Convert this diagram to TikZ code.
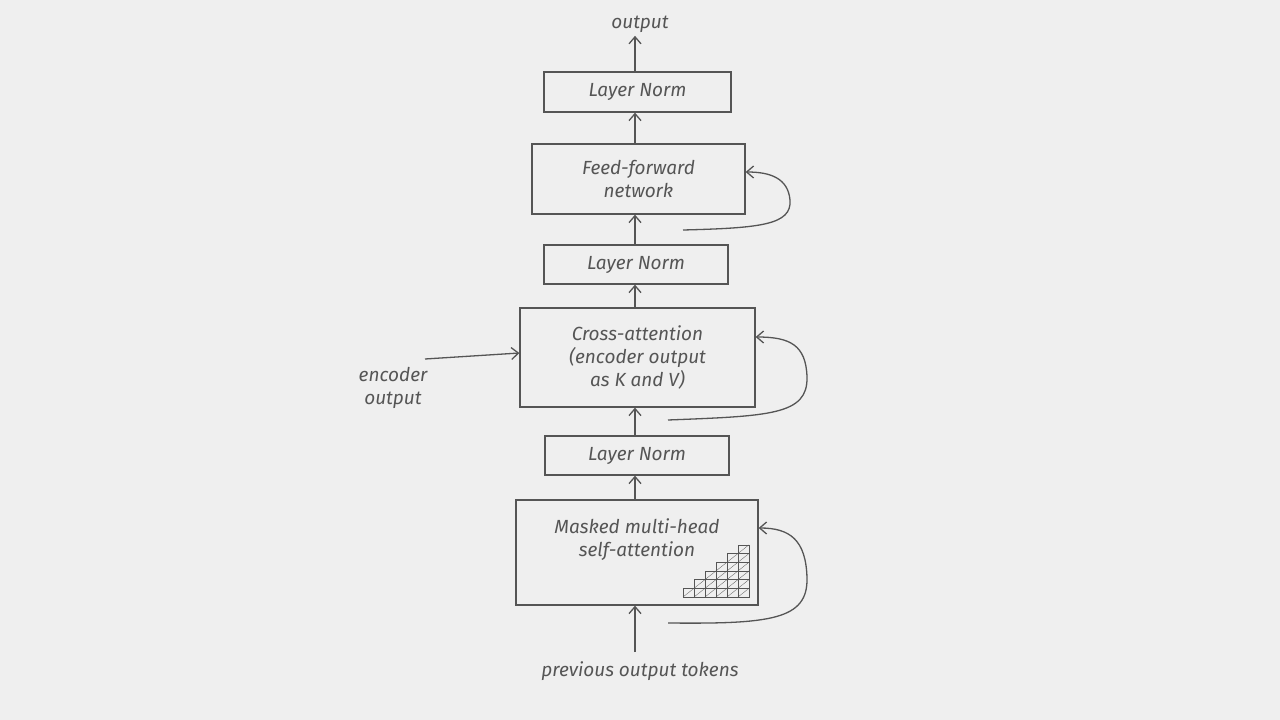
\documentclass[tikz,border=0pt]{standalone}
\usepackage{fontspec}
\setmainfont{Fira Sans}
\usetikzlibrary{arrows.meta}
\definecolor{ink}{HTML}{555555}
\definecolor{bg}{HTML}{EFEFEF}
\begin{document}
\begin{tikzpicture}[x=1pt,y=-1pt,
  txt/.style={text=ink,font=\fontsize{19}{23}\selectfont\itshape,align=center},
  box/.style={draw=ink,line width=1.3pt,txt,inner sep=0pt},
  arr/.style={draw=ink,line width=1.3pt,-{Straight Barb[length=7pt,width=12pt]}}]
\fill[bg] (0,0) rectangle (1280,720);
\useasboundingbox (0,0) rectangle (1280,720);
\node[box,minimum width=187pt,minimum height=40pt] (ln1) at (637.5,92) {Layer Norm};
\node[box,minimum width=213pt,minimum height=70pt] (ff) at (638.5,179) {Feed-forward\\network};
\node[box,minimum width=184pt,minimum height=39pt] (ln2) at (636,264.5) {Layer Norm};
\node[box,minimum width=235pt,minimum height=99pt] (ca) at (637.5,357.5) {Cross-attention\\(encoder output\\as K and V)};
\node[box,minimum width=184pt,minimum height=39pt] (ln3) at (637,455.5) {Layer Norm};
\node[box,minimum width=242pt,minimum height=105pt] (ma) at (637,552.5) {};
\node[txt] (matxt) at (637,540) {Masked multi-head\\self-attention};
\node[txt] (out) at (640,24) {output};
\node[txt] (prev) at (640,671) {previous output tokens};
\node[txt] (enc) at (393,388) {encoder\\output};
\coordinate (in) at (635,652);
\coordinate (encs) at (425,359);
% grid
\foreach \i in {1,...,6}{
  \foreach \j in {1,...,\i}{
    \draw[ink,line width=0.6pt] (683+11*\i-11,597-8.7*\j+8.7) rectangle ++(11,-8.7);
    \draw[ink,line width=0.3pt] (683+11*\i-11,597-8.7*\j+8.7) -- ++(11,-8.7);
  }}
\draw[arr] (in) -- (ma.south -| in);
\draw[arr] (ma.north -| in) -- (ln3.south -| in);
\draw[arr] (ln3.north -| in) -- (ca.south -| in);
\draw[arr] (ca.north -| in) -- (ln2.south -| in);
\draw[arr] (ln2.north -| in) -- (ff.south -| in);
\draw[arr] (ff.north -| in) -- (ln1.south -| in);
\draw[arr] (ln1.north -| in) -- (out.south -| in);
\draw[arr] (encs) -- (ca.west |- 0,353);
\coordinate (r1) at (683,230);
\coordinate (r2) at (668,420);
\coordinate (r3) at (668,623);
\draw[arr] (r1) .. controls (760,228) and (792,225) .. (790,200) .. controls (788,178) and (770,172) .. (ff.east |- 0,172);
\draw[arr] (r2) .. controls (770,416) and (808,415) .. (807,377) .. controls (806,345) and (790,337) .. (ca.east |- 0,337);
\draw[arr] (r3) .. controls (770,624) and (808,620) .. (807,578) .. controls (806,540) and (790,528) .. (ma.east |- 0,528);
\end{tikzpicture}
\end{document}
